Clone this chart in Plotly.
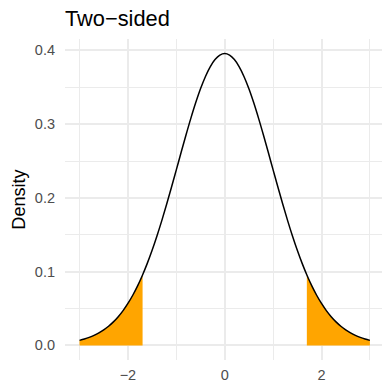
import plotly.graph_objects as go

# t-distribution (df = 30) density, read at x = 0.0 .. 3.0 step 0.1 (symmetric)
x_pos = [0.0, 0.1, 0.2, 0.3, 0.4, 0.5, 0.6, 0.7, 0.8, 0.9, 1.0,
         1.1, 1.2, 1.3, 1.4, 1.5, 1.6, 1.7, 1.8, 1.9, 2.0,
         2.1, 2.2, 2.3, 2.4, 2.5, 2.6, 2.7, 2.8, 2.9, 3.0]
dens_pos = [0.39563, 0.39359, 0.38754, 0.37768, 0.36432, 0.34788, 0.32885,
            0.30777, 0.28522, 0.26178, 0.23799, 0.21434, 0.19129, 0.16919,
            0.14834, 0.12896, 0.11120, 0.09510, 0.08070, 0.06797, 0.05685,
            0.04720, 0.03894, 0.03192, 0.02600, 0.02106, 0.01696, 0.01358,
            0.01083, 0.00859, 0.00678]
t_crit = 1.697
dens_crit = 0.0955

title_text = "Two\u2212sided"
y_label = "Density"
x_tick_vals = [-2, 0, 2]
x_tick_text = ["\u22122", "0", "2"]
y_tick_vals = [0.0, 0.1, 0.2, 0.3, 0.4]
y_tick_text = ["0.0", "0.1", "0.2", "0.3", "0.4"]

# full curve
xs = [-v for v in reversed(x_pos[1:])] + x_pos
ys = list(reversed(dens_pos[1:])) + dens_pos

# tails
left_x = [-v for v in reversed(x_pos) if v >= t_crit] + [-t_crit]
left_y = [d for v, d in zip(reversed(x_pos), reversed(dens_pos)) if v >= t_crit] + [dens_crit]
right_x = [t_crit] + [v for v in x_pos if v >= t_crit]
right_y = [dens_crit] + [d for v, d in zip(x_pos, dens_pos) if v >= t_crit]

fig = go.Figure()
fill_col = "#FFA500"
for tx, ty in [(left_x, left_y), (right_x, right_y)]:
    fig.add_trace(go.Scatter(x=tx, y=ty, mode="lines", fill="tozeroy",
                             fillcolor=fill_col, line=dict(width=0, color=fill_col),
                             hoverinfo="skip", showlegend=False))
fig.add_trace(go.Scatter(x=xs, y=ys, mode="lines", line=dict(color="black", width=1.5, shape="spline"),
                         showlegend=False))

W, H = 382, 385
grid_col = "#EBEBEB"
fig.update_layout(
    width=W, height=H,
    margin=dict(l=65, r=0, t=39, b=25, autoexpand=False),
    paper_bgcolor="white", plot_bgcolor="white",
    font=dict(family="Liberation Sans, Arial, sans-serif", color="#4D4D4D", size=14.5),
    title=dict(text=title_text, x=65 / W, xanchor="left", xref="container",
               y=1 - 18.5 / H, yanchor="middle", yref="container",
               font=dict(size=21.8, color="black")),
    xaxis=dict(range=[-3.3, 3.25], tickvals=x_tick_vals, ticktext=x_tick_text,
               showgrid=True, gridcolor=grid_col, gridwidth=1.6, zeroline=False,
               showline=False, ticks="", ticklabelstandoff=4, automargin=False,
               minor=dict(tickvals=[-3, -1, 1, 3], showgrid=True, gridcolor=grid_col, gridwidth=0.8, ticks="")),
    yaxis=dict(range=[-0.0198, 0.4154], tickvals=y_tick_vals, ticktext=y_tick_text,
               showgrid=True, gridcolor=grid_col, gridwidth=1.6, zeroline=False,
               showline=False, ticks="", ticklabelstandoff=9, automargin=False,
               title=dict(text=y_label, font=dict(size=18.1, color="black"), standoff=4),
               minor=dict(tickvals=[0.05, 0.15, 0.25, 0.35], showgrid=True, gridcolor=grid_col, gridwidth=0.8, ticks="")),
)

fig.write_html("out.html", config={"displayModeBar": False},
               post_script="document.body.style.margin='0px';document.body.style.overflow='hidden';")
